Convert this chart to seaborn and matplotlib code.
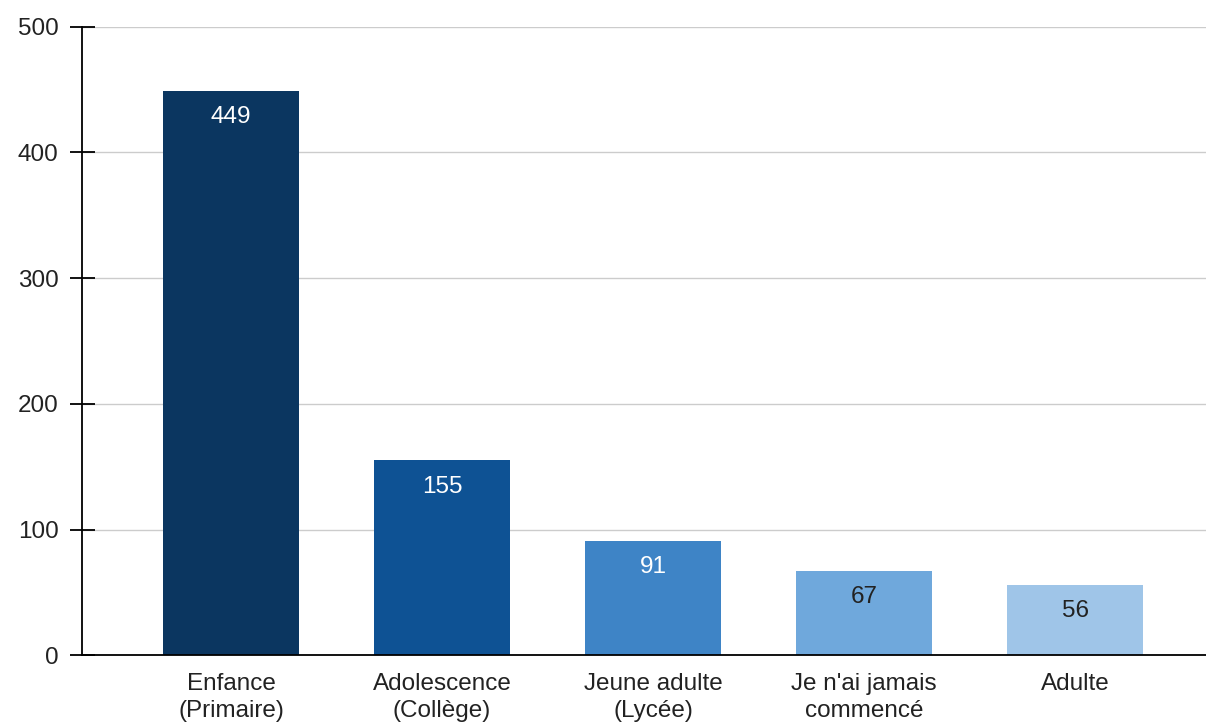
import seaborn as sns
import matplotlib.pyplot as plt
import pandas as pd

sns.set_theme(style="whitegrid")
plt.rcParams['font.family'] = ['Liberation Sans', 'DejaVu Sans']

categories = ["Enfance\n(Primaire)", "Adolescence\n(Collège)", "Jeune adulte\n(Lycée)",
              "Je n'ai jamais\ncommencé", "Adulte"]
values = [449, 155, 91, 67, 56]
colors = ["#0b3660", "#0e5294", "#3e84c6", "#6fa8dc", "#9fc5e8"]
label_colors = ["white", "white", "white", "#222222", "#222222"]

df = pd.DataFrame({"cat": categories, "val": values})

fig = plt.figure(figsize=(12.06, 7.24), dpi=100)
ax = fig.add_axes([0.068, 0.095, 0.932, 0.868])
sns.barplot(data=df, x="cat", y="val", hue="cat", palette=colors, legend=False,
            width=0.645, ax=ax, saturation=1, linewidth=0)

for i, v in enumerate(values):
    ax.annotate(str(v), (i, v), xytext=(0, -19), textcoords="offset points",
                ha="center", va="center", fontsize=17.5, color=label_colors[i])

ax.set_ylim(0, 500)
ax.set_xlim(-0.706, 4.62)
ax.set_yticks([0, 100, 200, 300, 400, 500])
ax.set_xlabel("")
ax.set_ylabel("")
ax.grid(axis="x", visible=False)
ax.grid(axis="y", color="#cccccc", linewidth=1)
for s in ["top", "right"]:
    ax.spines[s].set_visible(False)
ax.spines["left"].set_color("black")
ax.spines["bottom"].set_color("black")
ax.spines["left"].set_linewidth(1.3)
ax.spines["bottom"].set_linewidth(1.3)
ax.tick_params(axis="y", direction="inout", length=18, width=1.3, color="black",
               labelsize=17.5, pad=8, left=True, labelcolor="#222222")
ax.tick_params(axis="x", length=0, labelsize=17.5, pad=13, labelcolor="#222222")
for t in ax.get_xticklabels():
    t.set_linespacing(1.3)

fig.savefig("out.png", dpi=100)
